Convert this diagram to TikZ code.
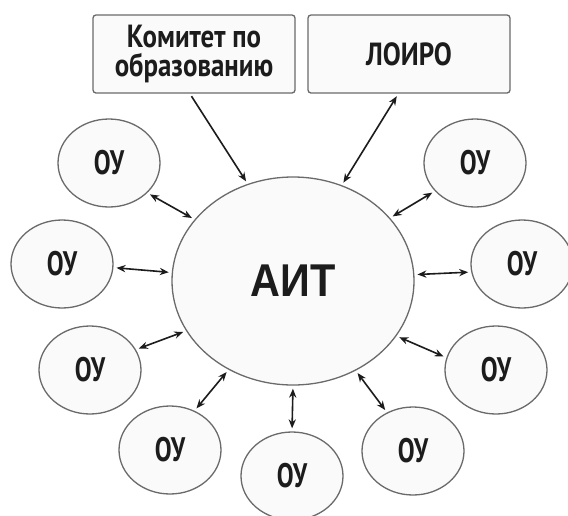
\documentclass[tikz,border=0pt]{standalone}
\usepackage{fontspec}
\setmainfont{PT Sans}[FakeStretch=0.74]
\newfontfamily\orgfont{PT Sans}[FakeStretch=0.84]
\newfontfamily\aitfont{Liberation Sans}[FakeStretch=0.9]
\usetikzlibrary{arrows.meta,shapes.geometric}
\definecolor{edgegray}{HTML}{6A6A6A}
\definecolor{paper}{HTML}{FAFAFA}
\definecolor{ink}{HTML}{1C1C1C}
\tikzset{
  ou/.style={ellipse, draw=edgegray, fill=paper, line width=0.65pt,
    minimum width=51pt, minimum height=44pt, inner sep=0pt, text=ink,
    font=\bfseries\fontsize{17}{18}\selectfont},
  ait/.style={ellipse, draw=edgegray, fill=paper, line width=0.65pt,
    minimum width=121pt, minimum height=104pt, inner sep=0pt, text=ink,
    font=\aitfont\bfseries\fontsize{23}{24}\selectfont},
  org/.style={rectangle, rounded corners=1.5pt, draw=edgegray, fill=paper,
    line width=0.65pt, minimum width=101pt, minimum height=39pt, inner sep=0pt,
    align=center, text=ink, font=\orgfont\bfseries\fontsize{16}{14.5}\selectfont},
  link/.style={ink, line width=0.8pt,
    {Stealth[length=4.5pt,width=3.6pt]}-{Stealth[length=4.5pt,width=3.6pt]},
    shorten <=1.5pt, shorten >=1.5pt},
  onelink/.style={ink, line width=0.8pt, -{Stealth[length=4.5pt,width=3.6pt]},
    shorten <=1.5pt, shorten >=1.5pt},
}

\begin{document}
\begin{tikzpicture}[x=0.5pt, y=-0.5pt]
  \fill[white] (0,0) rectangle (568,515);
  \useasboundingbox (0,0) rectangle (568,515);

  % upper boxes
  \node[org] (komitet) at (194,54) {Комитет по\\образованию};
  \node[org] (loiro) at (409,54) {ЛОИРО};

  % centre
  \node[ait] (ait) at (293,281) {АИТ};

  % schools round the centre
  \node[ou] (ou1) at (109,163) {ОУ};
  \node[ou] (ou2) at (62,264) {ОУ};
  \node[ou] (ou3) at (90,370) {ОУ};
  \node[ou] (ou4) at (170,450) {ОУ};
  \node[ou] (ou5) at (292,476) {ОУ};
  \node[ou] (ou6) at (413,451) {ОУ};
  \node[ou] (ou7) at (496,370) {ОУ};
  \node[ou] (ou8) at (522,264) {ОУ};
  \node[ou] (ou9) at (475,163) {ОУ};

  % links
  \draw[onelink] (komitet.-96) -- (ait.115);
  \draw[link] (loiro.-105) -- (ait.63);
  \draw[link] (ou1.-38) -- (ait.148);
  \draw[link] (ou2.-4) -- (ait.176);
  \draw[link] (ou3.24) -- (ait.205);
  \draw[link] (ou4.58) -- (ait.234);
  \draw[link] (ou5.90) -- (ait.270);
  \draw[link] (ou6.124) -- (ait.-55);
  \draw[link] (ou7.166) -- (ait.-28);
  \draw[link] (ou8.189) -- (ait.3);
  \draw[link] (ou9.-145) -- (ait.33);
\end{tikzpicture}
\end{document}
